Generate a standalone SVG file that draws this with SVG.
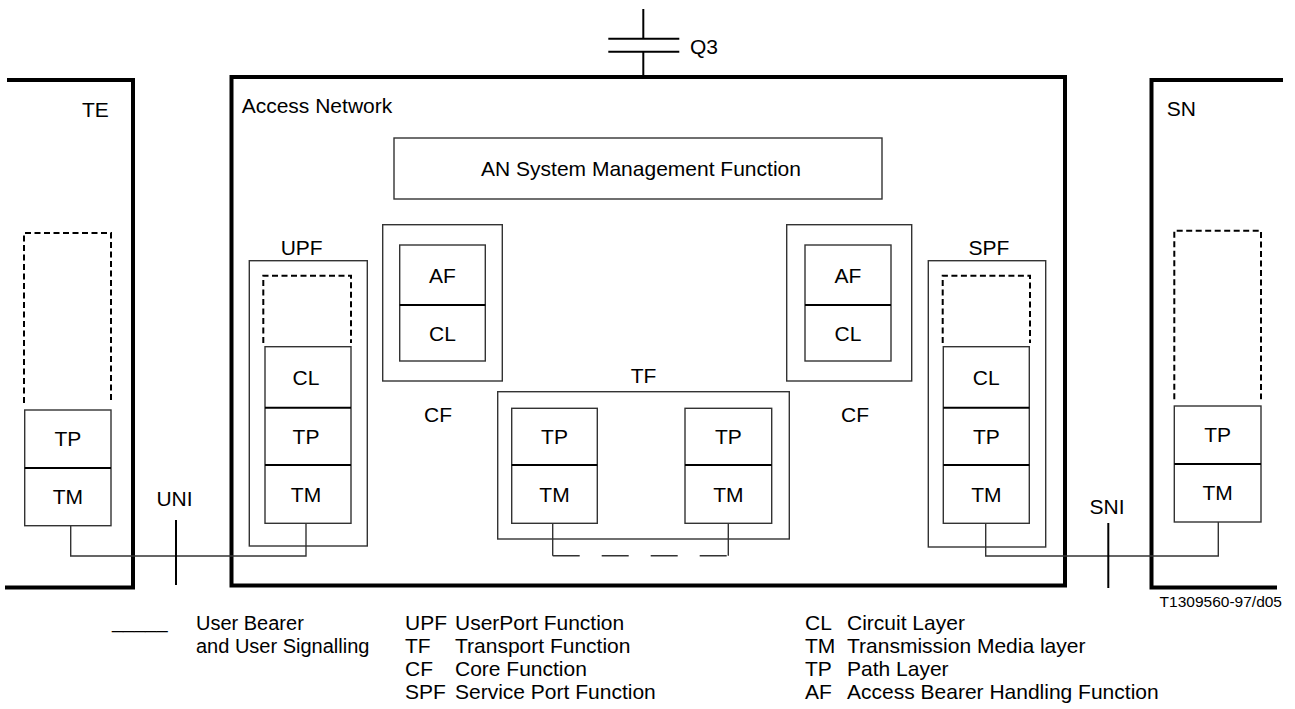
<svg xmlns="http://www.w3.org/2000/svg" width="1295" height="709" viewBox="0 0 1295 709">
<style>
text{font-family:"Liberation Sans",Arial,sans-serif;font-size:21px;fill:#000}
.c{text-anchor:middle}
.frame{fill:none;stroke:#000;stroke-width:4}
.box{fill:none;stroke:#333;stroke-width:1.4}
.div{stroke:#000;stroke-width:2}
.dash{fill:none;stroke:#000;stroke-width:2;stroke-dasharray:6 3.5}
.wire{fill:none;stroke:#333;stroke-width:1.4}
.tick{stroke:#000;stroke-width:2}
.small{font-size:15.5px}
.ub{font-size:20px}
</style>
<g id="q3">
<line class="tick" x1="643.3" y1="9" x2="643.3" y2="38.7"/>
<line class="tick" x1="608.3" y1="38.7" x2="679.3" y2="38.7"/>
<line class="tick" x1="608.3" y1="51.7" x2="679.3" y2="51.7"/>
<line class="tick" x1="643.3" y1="51.7" x2="643.3" y2="77"/>
<text x="690" y="54">Q3</text>
</g>
<g id="te">
<polyline class="frame" points="7,80 133,80 133,587.5 5,587.5"/>
<text x="82" y="117">TE</text>
<path class="dash" d="M24,403 V233 H111 V403"/>
<rect class="box" x="24.7" y="410" width="86.3" height="115.7"/>
<line class="div" x1="24.7" y1="468" x2="111" y2="468"/>
<text class="c" x="67.8" y="446">TP</text>
<text class="c" x="67.8" y="504">TM</text>
</g>
<g id="an">
<rect class="frame" x="231.5" y="77" width="833.5" height="508.5"/>
<text x="241.7" y="113">Access Network</text>
</g>
<g id="smf">
<rect class="box" x="394" y="138" width="488" height="61"/>
<text class="c" x="641" y="176">AN System Management Function</text>
</g>
<g id="upf">
<text class="c" x="301.7" y="255">UPF</text>
<rect class="box" x="249.3" y="260.7" width="118" height="285.3"/>
<path class="dash" d="M263.3,343 V275.7 H351 V343"/>
<rect class="box" x="265" y="346.7" width="86" height="176.6"/>
<line class="div" x1="265" y1="407.7" x2="351" y2="407.7"/>
<line class="div" x1="265" y1="465" x2="351" y2="465"/>
<text class="c" x="306" y="384.5">CL</text>
<text class="c" x="306" y="443.5">TP</text>
<text class="c" x="306" y="501.5">TM</text>
</g>
<g id="cf-left">
<rect class="box" x="382.7" y="224.7" width="119.6" height="156.3"/>
<rect class="box" x="399.7" y="245" width="85.6" height="116"/>
<line class="div" x1="399.7" y1="305" x2="485.3" y2="305"/>
<text class="c" x="442.5" y="282.5">AF</text>
<text class="c" x="442.5" y="340.5">CL</text>
<text class="c" x="438" y="421.5">CF</text>
</g>
<g id="tf">
<text class="c" x="643.5" y="383">TF</text>
<rect class="box" x="497.7" y="391.7" width="291.6" height="147.3"/>
<rect class="box" x="511.7" y="408.3" width="85.6" height="115"/>
<line class="div" x1="511.7" y1="465" x2="597.3" y2="465"/>
<text class="c" x="554.5" y="444">TP</text>
<text class="c" x="554.5" y="501.5">TM</text>
<rect class="box" x="685" y="408.3" width="86.7" height="115"/>
<line class="div" x1="685" y1="465" x2="771.7" y2="465"/>
<text class="c" x="728.3" y="444">TP</text>
<text class="c" x="728.3" y="501.5">TM</text>
</g>
<g id="cf-right">
<rect class="box" x="786.7" y="224.7" width="125" height="156.3"/>
<rect class="box" x="805" y="245" width="86" height="116"/>
<line class="div" x1="805" y1="305" x2="891" y2="305"/>
<text class="c" x="848" y="282.5">AF</text>
<text class="c" x="848" y="340.5">CL</text>
<text class="c" x="855" y="421.5">CF</text>
</g>
<g id="spf">
<text class="c" x="989" y="255">SPF</text>
<rect class="box" x="928.3" y="260.7" width="117.4" height="286.3"/>
<path class="dash" d="M942.7,343 V275.7 H1030 V343"/>
<rect class="box" x="943.3" y="346.7" width="86" height="176.6"/>
<line class="div" x1="943.3" y1="407.7" x2="1029.3" y2="407.7"/>
<line class="div" x1="943.3" y1="465" x2="1029.3" y2="465"/>
<text class="c" x="986.3" y="384.5">CL</text>
<text class="c" x="986.3" y="443.5">TP</text>
<text class="c" x="986.3" y="501.5">TM</text>
</g>
<g id="sn">
<polyline class="frame" points="1283,80 1151.5,80 1151.5,587.5 1277,587.5"/>
<text x="1166.7" y="116">SN</text>
<path class="dash" d="M1174.3,399.3 V230.7 H1261 V399.3"/>
<rect class="box" x="1174.3" y="406" width="86.7" height="116"/>
<line class="div" x1="1174.3" y1="464" x2="1261" y2="464"/>
<text class="c" x="1217.7" y="442">TP</text>
<text class="c" x="1217.7" y="500">TM</text>
</g>
<g id="connectors">
<path class="wire" d="M70.7,525.7 V556 H306 V523.3"/>
<path class="wire" d="M985.7,523.3 V556 H1218.3 V522"/>
<path class="wire" d="M552.7,523.3 V555.7 M728.3,523.3 V555.7"/>
<line class="wire" x1="552.7" y1="555.7" x2="728.3" y2="555.7" stroke-dasharray="27 22"/>
</g>
<g id="uni">
<line class="tick" x1="176" y1="520" x2="176" y2="585"/>
<text class="c" x="174.5" y="505.5">UNI</text>
</g>
<g id="sni">
<line class="tick" x1="1108.3" y1="523" x2="1108.3" y2="588"/>
<text class="c" x="1107" y="514">SNI</text>
</g>
<text class="small" x="1282" y="607" text-anchor="end">T1309560-97/d05</text>
<g id="legend">
<text class="ub" x="112" y="628">_____</text>
<text class="ub" x="196" y="630">User Bearer</text>
<text class="ub" x="196" y="653">and User Signalling</text>
<text x="405" y="630">UPF</text><text x="455" y="630">UserPort Function</text>
<text x="405" y="653">TF</text><text x="455" y="653">Transport Function</text>
<text x="405" y="676">CF</text><text x="455" y="676">Core Function</text>
<text x="405" y="699">SPF</text><text x="455" y="699">Service Port Function</text>
<text x="805" y="630">CL</text><text x="847" y="630">Circuit Layer</text>
<text x="805" y="653">TM</text><text x="847" y="653">Transmission Media layer</text>
<text x="805" y="676">TP</text><text x="847" y="676">Path Layer</text>
<text x="805" y="699">AF</text><text x="847" y="699">Access Bearer Handling Function</text>
</g>
</svg>
